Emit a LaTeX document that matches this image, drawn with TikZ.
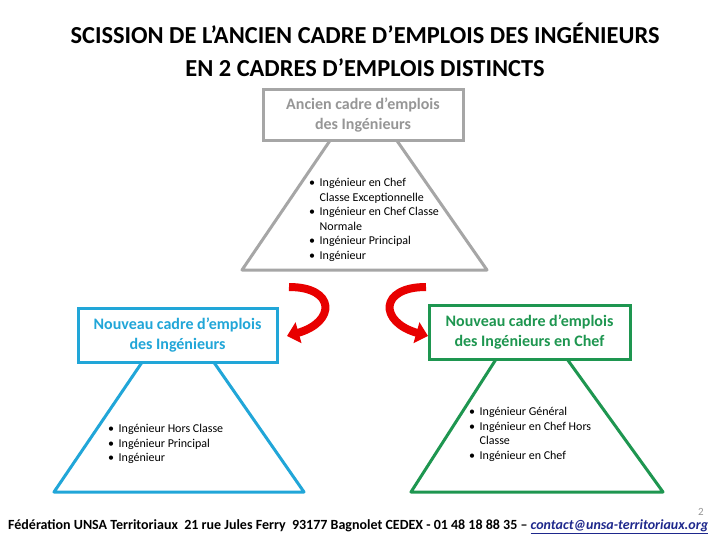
\documentclass[tikz,border=0pt]{standalone}
\usepackage{fontspec}
\setmainfont{Carlito}
\usepackage{graphicx}
\usetikzlibrary{arrows.meta}
\definecolor{grayline}{RGB}{166,166,166}
\definecolor{graytext}{RGB}{150,150,150}
\definecolor{blueline}{RGB}{33,166,216}
\definecolor{greenline}{RGB}{30,150,80}
\definecolor{redarrow}{RGB}{232,0,0}
\definecolor{linkblue}{RGB}{30,40,140}
\tikzset{
  box/.style={draw, fill=white, line width=3pt, minimum width=#1, inner sep=0pt, align=center, font=\fontsize{16}{20}\selectfont\bfseries},
  tri/.style={line width=3pt, fill=white, line join=round},
  blist/.style={anchor=north west, inner sep=0pt, align=left, font=\fontsize{12}{14.5}\selectfont},
  bendarrow/.style={draw=redarrow, line width=8pt, -{Triangle[width=21pt,length=12pt]}},
}
\newcommand{\bl}[1]{\makebox[10.5pt][l]{\textbullet}#1}
\newcommand{\bc}[1]{\makebox[10.5pt][l]{}#1}
\begin{document}
\begin{tikzpicture}[x=1pt,y=-1pt]
\useasboundingbox (0,0) rectangle (720,540);
% title
\node[font=\fontsize{24.4}{33}\selectfont\bfseries, align=center] (title) at (365,50) {SCISSION DE L’ANCIEN CADRE D’EMPLOIS DES INGÉNIEURS\\EN 2 CADRES D’EMPLOIS DISTINCTS};
% gray
\coordinate (gL) at (242,270);
\coordinate (gR) at (487,270);
\draw[tri, draw=grayline] (363,92) -- (gL) -- (gR) -- cycle;
\node[box=200pt, minimum height=51pt, draw=grayline, text=graytext] (old) at (363,115.5) {Ancien cadre d’emplois\\des Ingénieurs};
\node[blist] (oldlist) at (309,178) {\bl{Ingénieur en Chef}\\\bc{Classe Exceptionnelle}\\\bl{Ingénieur en Chef Classe}\\\bc{Normale}\\\bl{Ingénieur Principal}\\\bl{Ingénieur}};
% blue
\coordinate (bL) at (54,492);
\coordinate (bR) at (304,492);
\draw[tri, draw=blueline] (177.5,310) -- (bL) -- (bR) -- cycle;
\node[box=199pt, minimum height=54pt, draw=blueline, text=blueline] (blue) at (177.5,335) {Nouveau cadre d’emplois\\des Ingénieurs};
\node[blist] (bluelist) at (108,424) {\bl{Ingénieur Hors Classe}\\\bl{Ingénieur Principal}\\\bl{Ingénieur}};
% green
\coordinate (grL) at (411,492);
\coordinate (grR) at (663,492);
\draw[tri, draw=greenline] (529.5,307) -- (grL) -- (grR) -- cycle;
\node[box=201pt, minimum height=54pt, draw=greenline, text=greenline] (green) at (529.5,332) {Nouveau cadre d’emplois\\des Ingénieurs en Chef};
\node[blist] (greenlist) at (469,407) {\bl{Ingénieur Général}\\\bl{Ingénieur en Chef Hors}\\\bc{Classe}\\\bl{Ingénieur en Chef}};
% red arrows
\coordinate (a1s) at (289,287);
\coordinate (a1e) at (287,336);
\draw[bendarrow] (a1s) .. controls (336,287) and (336,322) .. (a1e);
\coordinate (a2s) at (426,287);
\coordinate (a2e) at (428,336);
\draw[bendarrow] (a2s) .. controls (379,287) and (379,322) .. (a2e);
% footer
\node[text=graytext, font=\fontsize{11}{12}\selectfont] (page) at (701,512) {2};
\node[anchor=west, inner sep=0pt, font=\fontsize{14}{15}\selectfont\bfseries] (footer) at (8,527) {Fédération UNSA Territoriaux\ \ 21 rue Jules Ferry\ \ 93177 Bagnolet CEDEX - 01 48 18 88 35 – \textcolor{linkblue}{\underline{\itshape contact@unsa-territoriaux.org}}};
\end{tikzpicture}
\end{document}
